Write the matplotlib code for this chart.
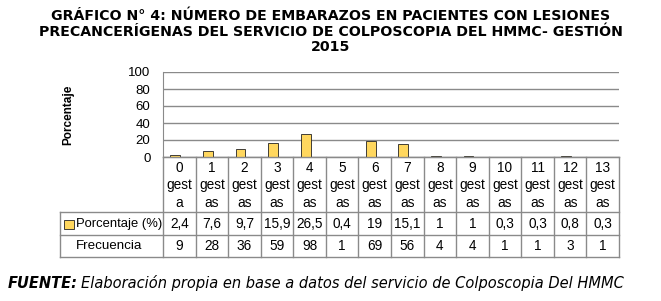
import numpy as np
import matplotlib.pyplot as plt
from matplotlib.patches import Rectangle

# datos
categorias = ['0', '1', '2', '3', '4', '5', '6', '7', '8', '9', '10', '11', '12', '13']
sufijos = ['a'] + ['as'] * 13
porcentaje = [2.4, 7.6, 9.7, 15.9, 26.5, 0.4, 19, 15.1, 1, 1, 0.3, 0.3, 0.8, 0.3]
frecuencia = [9, 28, 36, 59, 98, 1, 69, 56, 4, 4, 1, 1, 3, 1]
yticks = [0, 20, 40, 60, 80, 100]

W, H = 661, 301
amarillo = '#FFD75E'
gris = '#8a8a8a'
fuente_tabla = 'Liberation Sans'


def fmt(v):
    s = ('%g' % v).replace('.', ',')
    return s


fig = plt.figure(figsize=(W / 100, H / 100), dpi=100)

# eje principal (pixeles)
x0, x1 = 163, 619
ytop, ybot = 72, 157
ax = fig.add_axes([x0 / W, 1 - ybot / H, (x1 - x0) / W, (ybot - ytop) / H])
n = len(categorias)
x = np.arange(n)
ax.bar(x - 0.12, porcentaje, width=0.3, color=amarillo, edgecolor='#222222', linewidth=0.6, zorder=3)
ax.set_xlim(-0.5, n - 0.5)
ax.set_ylim(0, 100)
ax.set_yticks(yticks)
ax.set_yticklabels([str(t) for t in yticks], fontsize=9.5, family=fuente_tabla)
ax.tick_params(axis='y', length=0, pad=9)
ax.set_xticks([])
ax.grid(axis='y', color=gris, linewidth=1, zorder=0)
for s in ['top', 'right']:
    ax.spines[s].set_visible(False)
ax.spines['left'].set_color(gris)
ax.spines['bottom'].set_color(gris)
ax.set_ylabel('Porcentaje', fontsize=8.5, fontweight='bold', family='Liberation Sans', labelpad=39)

# tabla dibujada en coordenadas de pixel
tab = fig.add_axes([0, 0, 1, 1])
tab.set_xlim(0, W)
tab.set_ylim(H, 0)
tab.axis('off')

colw = (x1 - x0) / n
r0, r1, r2, r3 = 157, 212, 235, 257
lab_x = 60
lw = 1

# horizontales
tab.plot([x0, x1], [r0, r0], color=gris, lw=lw)
for r in (r1, r2, r3):
    tab.plot([lab_x, x1], [r, r], color=gris, lw=lw)
# verticales
for i in range(n + 1):
    xx = x0 + i * colw
    tab.plot([xx, xx], [r0, r3], color=gris, lw=lw)
tab.plot([lab_x, lab_x], [r1, r3], color=gris, lw=lw)

for i in range(n):
    cx = x0 + (i + 0.5) * colw
    tab.text(cx, 168, categorias[i], ha='center', va='center', fontsize=9.8, family=fuente_tabla)
    tab.text(cx, 185, 'gest', ha='center', va='center', fontsize=9.8, family=fuente_tabla)
    tab.text(cx, 203, sufijos[i], ha='center', va='center', fontsize=9.8, family=fuente_tabla)
    tab.text(cx, (r1 + r2) / 2, fmt(porcentaje[i]), ha='center', va='center', fontsize=9.8, family=fuente_tabla)
    tab.text(cx, (r2 + r3) / 2, str(frecuencia[i]), ha='center', va='center', fontsize=9.8, family=fuente_tabla)

tab.add_patch(Rectangle((64, 220), 10, 9, facecolor=amarillo, edgecolor='#222222', lw=0.6))
tab.text(76.5, (r1 + r2) / 2, 'Porcentaje (%)', ha='left', va='center', fontsize=9.4, family=fuente_tabla)
tab.text(76, (r2 + r3) / 2, 'Frecuencia', ha='left', va='center', fontsize=9.6, family=fuente_tabla)

# titulo
titulo = ['GRÁFICO N° 4: NÚMERO DE EMBARAZOS EN PACIENTES CON LESIONES',
          'PRECANCERÍGENAS DEL SERVICIO DE COLPOSCOPIA DEL HMMC- GESTIÓN',
          '2015']
for k, linea in enumerate(titulo):
    tab.text(331, 16.5 + k * 15.3, linea, ha='center', va='center', fontsize=10.2,
             fontweight='bold', family='DejaVu Sans')

# fuente
t1 = tab.text(8, 283, 'FUENTE:', ha='left', va='center', fontsize=10.5, fontweight='bold',
              style='italic', family='DejaVu Sans')
fig.canvas.draw()
bb = t1.get_window_extent()
tab.text(8 + bb.width + 3, 283, 'Elaboración propia en base a datos del servicio de Colposcopia Del HMMC',
         ha='left', va='center', fontsize=10.5, style='italic', family='DejaVu Sans')

fig.savefig('out.png', dpi=100)
